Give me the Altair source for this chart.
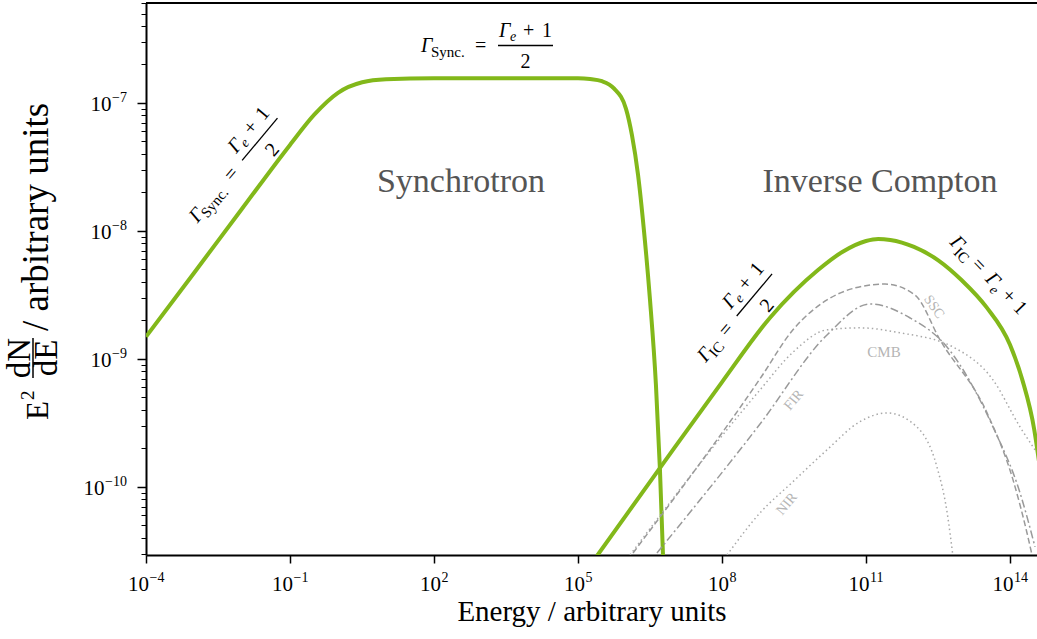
import math
import altair as alt
import pandas as pd

FONT = "Liberation Serif"
GREEN = "#82b81a"

# ---- spectra: E^2 dN/dE against energy (arbitrary units) ----
sync_energy = [1e-4, 1e-3, 1e-2, 1e-1, 3.2e-1, 1e0, 3.2e0, 1e1, 1e2, 1e3, 1e4, 1e5,
               1.78e5, 3.16e5, 5.6e5, 1e6, 1.33e6, 1.78e6, 2.37e6, 3.16e6, 4.2e6, 5.1e6, 5.9e6, 6.6e6]
sync_flux = [1.49e-9, 4.7e-9, 1.49e-8, 4.7e-8, 8.1e-8, 1.2e-7, 1.45e-7, 1.53e-7, 1.56e-7, 1.56e-7, 1.56e-7, 1.56e-7,
             1.54e-7, 1.48e-7, 1.3e-7, 9e-8, 5.6e-8, 2.75e-8, 1.0e-8, 2.9e-9, 6.3e-10, 1.35e-10, 2.9e-11, 1e-11]

ic_energy = [2.5e5, 1e6, 1e7, 1e8, 1e9, 1e10, 3.2e10, 1e11, 1.8e11, 3.2e11, 1e12, 3.2e12,
             1e13, 3.2e13, 1e14, 1.8e14, 3.2e14, 4e14]
ic_flux = [2.9e-11, 6.0e-11, 2.0e-10, 6.6e-10, 2.1e-9, 4.95e-9, 6.85e-9, 8.35e-9, 8.66e-9, 8.5e-9, 7.5e-9, 5.9e-9,
           4.1e-9, 2.55e-9, 1.29e-9, 6.9e-10, 2.8e-10, 1.6e-10]

ssc_energy = [1.4e6, 6.19e8, 3.01e9, 1.54e10, 5.9e10, 2.49e11, 1.05e12, 3.48e12, 3.32e13, 1.16e14, 2.26e14, 2.87e14]
ssc_flux = [3.05e-11, 7.0e-10, 1.69e-9, 2.89e-9, 3.59e-9, 3.85e-9, 3.16e-9, 1.41e-9, 3.79e-10, 1.13e-10, 4.37e-11, 2.95e-11]

fir_energy = [4.42e6, 6.19e8, 1.54e10, 1.21e11, 8.3e11, 4.87e12, 4.42e13, 1.62e14, 3.32e14]
fir_flux = [3.05e-11, 3.1e-10, 1.54e-9, 2.69e-9, 2.09e-9, 1.24e-9, 2.94e-10, 8.97e-11, 3.4e-11]

cmb_energy = [1.21e6, 6.19e8, 3.01e9, 1.54e10, 7.5e10, 5.1e11, 6.5e12, 4.42e13, 1.62e14, 3.65e14]
cmb_flux = [2.94e-11, 5.73e-10, 1.13e-9, 1.69e-9, 1.75e-9, 1.6e-9, 1.24e-9, 6.86e-10, 2.94e-10, 1.85e-10]

nir_energy = [1.27e8, 6.19e8, 3.01e9, 1.54e10, 7.5e10, 2.74e11, 1.15e12, 3.01e12, 4.9e12, 6.5e12]
nir_flux = [2.94e-11, 6.27e-11, 1.1e-10, 1.95e-10, 3.24e-10, 3.79e-10, 2.94e-10, 1.43e-10, 6.3e-11, 2.84e-11]

x_ticks = [1e-4, 1e-1, 1e2, 1e5, 1e8, 1e11, 1e14]
y_major = [1e-10, 1e-9, 1e-8, 1e-7]

# ---- geometry of the plot area ----
W, H = 891, 552
LEFT, TOP = 146, 3
X_DOMAIN = [1e-4, 3.65e14]
Y_DOMAIN = [2.94e-11, 6.04e-7]
PXX = W / (math.log10(X_DOMAIN[1]) - math.log10(X_DOMAIN[0]))
PXY = H / (math.log10(Y_DOMAIN[1]) - math.log10(Y_DOMAIN[0]))


def to_data(px, py):
    """Page position -> (energy, flux) on the log axes."""
    e = 10 ** (math.log10(X_DOMAIN[0]) + (px - LEFT) / PXX)
    f = 10 ** (math.log10(Y_DOMAIN[1]) - (py - TOP) / PXY)
    return e, f


def x_px(e):
    return LEFT + (math.log10(e) - math.log10(X_DOMAIN[0])) * PXX


def y_px(f):
    return TOP + (math.log10(Y_DOMAIN[1]) - math.log10(f)) * PXY


y_ticks = []
for d in range(-11, -6):
    for m in range(1, 10):
        v = m * 10.0 ** d
        if Y_DOMAIN[0] <= v <= Y_DOMAIN[1]:
            y_ticks.append(v)

is_major = "abs(log(datum.value)/LN10 - round(log(datum.value)/LN10)) < 0.01"

x_scale = alt.Scale(type="log", domain=X_DOMAIN, nice=False)
y_scale = alt.Scale(type="log", domain=Y_DOMAIN, nice=False)

x_axis = alt.Axis(values=x_ticks, labels=False, grid=False,
                  tickSize=8, tickWidth=1.5, tickColor="black", domainColor="black", domainWidth=2,
                  title="Energy / arbitrary units", titleFont=FONT, titleFontSize=29,
                  titleFontWeight="normal", titleColor="black", titlePadding=34)
y_axis = alt.Axis(values=y_ticks, labels=False, grid=False,
                  tickSize={"condition": {"test": is_major, "value": 9}, "value": 5},
                  tickWidth={"condition": {"test": is_major, "value": 1.5}, "value": 1},
                  tickColor="black", domainColor="black", domainWidth=2, title=None)

X = alt.X("E:Q", scale=x_scale, axis=x_axis)
Y = alt.Y("F:Q", scale=y_scale, axis=y_axis)


def curve(energy, flux, color, width, dash=None):
    df = pd.DataFrame({"E": energy, "F": flux, "i": range(len(energy))})
    kw = dict(color=color, strokeWidth=width, clip=True, interpolate="monotone")
    if dash:
        kw["strokeDash"] = dash
    return alt.Chart(df).mark_line(**kw).encode(x=X, y=Y, order="i:Q")


# ---- text pieces (formulae and tick labels are assembled from pieces) ----
texts = []
bars = []


def place(anchor, theta, pieces, color="black"):
    ax, ay = anchor
    t = math.radians(theta)
    c, s = math.cos(t), math.sin(t)
    for p in pieces:
        dx, dy, text, size, style = p[:5]
        align = p[5] if len(p) > 5 else "left"
        base = p[6] if len(p) > 6 else "alphabetic"
        sx = ax + dx * c - dy * s
        sy = ay + dx * s + dy * c
        e, f = to_data(sx, sy)
        texts.append(dict(E=e, F=f, text=text, size=size, style=style, align=align,
                          baseline=base, angle=theta % 360, color=color))


def bar(anchor, theta, x0, x1, dy, width=1.3):
    ax, ay = anchor
    t = math.radians(theta)
    c, s = math.cos(t), math.sin(t)
    p0 = (ax + x0 * c - dy * s, ay + x0 * s + dy * c)
    p1 = (ax + x1 * c - dy * s, ay + x1 * s + dy * c)
    e0, f0 = to_data(*p0)
    e1, f1 = to_data(*p1)
    bars.append(dict(E=e0, F=f0, E2=e1, F2=f1, w=width))


# tick labels 10^n: "10" plus a raised exponent
BASE_SIZE, EXP_SIZE = 21, 14


def exp_text(v):
    return str(round(math.log10(v))).replace("-", "−")


def exp_width(txt):
    return sum(0.564 if ch == "−" else 0.5 for ch in txt) * EXP_SIZE


for v in x_ticks:
    ex = exp_text(v)
    total = BASE_SIZE + exp_width(ex)
    split = x_px(v) - total / 2 + BASE_SIZE
    place((split, 591), 0, [(0, 0, "10", BASE_SIZE, "normal", "right"),
                            (0.5, -9.5, ex, EXP_SIZE, "normal", "left")])

for v in y_major:
    ex = exp_text(v)
    yy = y_px(v)
    place((127, yy + 8), 0, [(0, -8.5, ex, EXP_SIZE, "normal", "right"),
                             (-exp_width(ex) - 0.5, 0, "10", BASE_SIZE, "normal", "right")])


def gamma_fraction(anchor, theta, sub, eq_x):
    b0 = eq_x + 23
    place(anchor, theta, [
        (0, 0, "Γ", 20, "italic"),
        (10, 4.5, sub, 15, "normal"),
        (eq_x, 0, "=", 20, "normal"),
        (b0 + 1, -15, "Γ", 20, "italic"),
        (b0 + 12, -11.5, "e", 14, "italic"),
        (b0 + 25, -15, "+", 20, "normal"),
        (b0 + 44, -15, "1", 20, "normal"),
        (b0 + 27.5, 16, "2", 20, "normal", "center"),
    ])
    bar(anchor, theta, b0, b0 + 55, -6.5)


gamma_fraction((421, 52), 0, "Sync.", 54)
gamma_fraction((197.6, 223.5), -50, "Sync.", 54)
gamma_fraction((705.7, 363.1), -50, "IC", 33)
place((949, 243), 46, [
    (0, 0, "Γ", 20, "italic"),
    (10, 4.5, "IC", 15, "normal"),
    (31, 0, "=", 20, "normal"),
    (51, 0, "Γ", 20, "italic"),
    (62, 4.5, "e", 14, "italic"),
    (74, 0, "+", 20, "normal"),
    (91, 0, "1", 20, "normal"),
])

# region names and component labels
place((461, 182), 0, [(0, 0, "Synchrotron", 34, "normal", "center", "middle")], color="#555555")
place((880, 182), 0, [(0, 0, "Inverse Compton", 34, "normal", "center", "middle")], color="#555555")
place((934, 307), 55, [(0, 0, "SSC", 14, "normal", "center", "middle")], color="#b5b5b5")
place((884, 352), 0, [(0, 0, "CMB", 15, "normal", "center", "middle")], color="#b5b5b5")
place((794, 400), -50, [(0, 0, "FIR", 14, "normal", "center", "middle")], color="#b5b5b5")
place((787, 504), -50, [(0, 0, "NIR", 14, "normal", "center", "middle")], color="#b5b5b5")

# y-axis title: E^2 dN/dE / arbitrary units, written bottom to top
place((48, 420), -90, [
    (0, 0, "E", 31, "normal"),
    (20, -14, "2", 19, "normal"),
    (62, -18, "dN", 33, "normal", "center"),
    (62, 8.5, "dE", 33, "normal", "center"),
    (89, 0, "/ arbitrary units", 37, "normal"),
])
bar((48, 420), -90, 42, 82, -15, 1.5)

text_df = pd.DataFrame(texts)
bar_df = pd.DataFrame(bars)

text_layers = []
for (style, align, base, color), g in text_df.groupby(["style", "align", "baseline", "color"]):
    text_layers.append(
        alt.Chart(g.reset_index(drop=True)).mark_text(
            font=FONT, fontStyle=style, align=align, baseline=base, color=color, clip=False
        ).encode(
            x=X, y=Y,
            text="text:N",
            size=alt.Size("size:Q", scale=None, legend=None),
            angle=alt.Angle("angle:Q", scale=None),
        )
    )

bar_layer = alt.Chart(bar_df).mark_rule(color="black", clip=False).encode(
    x=X, x2="E2:Q", y=Y, y2="F2:Q",
    strokeWidth=alt.StrokeWidth("w:Q", scale=None, legend=None),
)

# top frame line
frame_df = pd.DataFrame({"E": [X_DOMAIN[0]], "E2": [X_DOMAIN[1]], "F": [Y_DOMAIN[1]]})
frame = alt.Chart(frame_df).mark_rule(color="black", strokeWidth=2).encode(x=X, x2="E2:Q", y=Y)

layers = [
    curve(sync_energy, sync_flux, GREEN, 4),
    curve(nir_energy, nir_flux, "#a8a8a8", 1.5, [1.5, 3]),
    curve(cmb_energy, cmb_flux, "#a8a8a8", 1.5, [1.5, 3]),
    curve(fir_energy, fir_flux, "#9a9a9a", 1.5, [8, 3, 2, 3]),
    curve(ssc_energy, ssc_flux, "#9a9a9a", 1.5, [6, 3]),
    curve(ic_energy, ic_flux, GREEN, 4),
    frame, bar_layer, *text_layers,
]

chart = alt.layer(*layers).properties(
    width=W, height=H, autosize="none",
    padding={"left": LEFT, "top": TOP, "right": 0, "bottom": 639 - TOP - H},
    background="white",
).configure_view(stroke=None)

chart.save("out.html", embed_options={"renderer": "svg", "actions": False})
